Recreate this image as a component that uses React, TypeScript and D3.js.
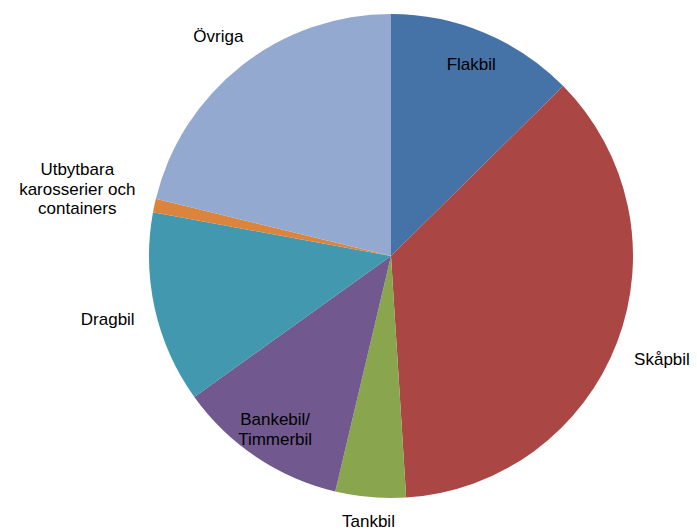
import React, { useEffect, useRef } from "react";
import * as d3 from "d3";

const WIDTH = 697;
const HEIGHT = 532;
const CENTER = { x: 391, y: 256 };
const RADIUS = 242;
const FONT_SIZE = 17;
const LINE_HEIGHT = 19.5;
const LABEL_GAP = 22;

// slices, clockwise from 12 o'clock
const categories = [
  "Flakbil",
  "Skåpbil",
  "Tankbil",
  "Bankebil/\nTimmerbil",
  "Dragbil",
  "Utbytbara\nkarosserier och\ncontainers",
  "Övriga",
];
const shares = [12.6, 36.4, 4.7, 11.4, 12.8, 0.9, 21.2];
const colors = ["#4572A7", "#AA4643", "#89A54E", "#71588F", "#4198AF", "#DB843D", "#93A9CF"];
// labels Excel placed inside the slice
const INSIDE_LABELS = ["Flakbil", "Bankebil/\nTimmerbil"];

type Slice = { label: string; value: number; color: string };

const data: Slice[] = categories.map((c, i) => ({ label: c, value: shares[i], color: colors[i] }));

export const PieChart = () => {
  const ref = useRef<SVGGElement>(null);

  useEffect(() => {
    const g = d3.select(ref.current);
    g.selectAll("*").remove();

    const pie = d3
      .pie<Slice>()
      .sort(null)
      .value((d) => d.value)
      .startAngle(0)
      .endAngle(2 * Math.PI);
    const arcs = pie(data);
    const arc = d3.arc<d3.PieArcDatum<Slice>>().innerRadius(0).outerRadius(RADIUS);

    g.selectAll("path")
      .data(arcs)
      .enter()
      .append("path")
      .attr("d", arc)
      .attr("fill", (d) => d.data.color);

    // labels
    arcs.forEach((a) => {
      const lines = a.data.label.split("\n");
      const mid = (a.startAngle + a.endAngle) / 2;
      const ux = Math.sin(mid);
      const uy = -Math.cos(mid);

      const text = g
        .append("text")
        .attr("text-anchor", "middle")
        .attr("font-family", "'Liberation Sans', Arial, sans-serif")
        .attr("font-size", FONT_SIZE)
        .attr("fill", "#000");
      const spans = lines.map((l) => text.append("tspan").text(l));

      // widest line
      const w = d3.max(spans, (s) => (s.node() as SVGTSpanElement).getComputedTextLength()) ?? 0;

      let dist: number;
      if (INSIDE_LABELS.includes(a.data.label)) {
        dist = RADIUS * 0.86;
      } else {
        dist = RADIUS + LABEL_GAP + (w / 2) * Math.abs(ux);
      }
      const cx = ux * dist;
      const cy = uy * dist;
      const firstY = cy - ((lines.length - 1) * LINE_HEIGHT) / 2;

      spans.forEach((s, i) => {
        s.attr("x", cx)
          .attr("y", firstY + i * LINE_HEIGHT)
          .attr("dy", "0.35em");
      });
    });

    return () => {
      g.selectAll("*").remove();
    };
  }, []);

  return (
    <svg
      width={WIDTH}
      height={HEIGHT}
      style={{ position: "absolute", left: 0, top: 0, background: "#fff" }}
    >
      <g ref={ref} transform={`translate(${CENTER.x},${CENTER.y})`} />
    </svg>
  );
};

export default function App() {
  return <PieChart />;
}
